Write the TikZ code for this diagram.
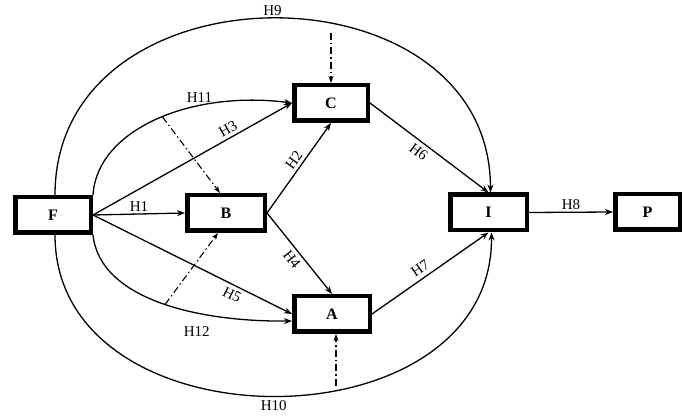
\documentclass[tikz,border=0pt]{standalone}
\usepackage{fontspec}
\setmainfont{Liberation Serif}
\usetikzlibrary{arrows.meta}
\begin{document}
\begin{tikzpicture}[x=1pt,y=-1pt,
  box/.style={draw, line width=4.5pt, fill=white, minimum width=#1, minimum height=35.5pt, inner sep=0pt, font=\fontsize{16}{16}\selectfont\bfseries},
  box/.default=75.5pt,
  link/.style={line width=1.3pt, -{Stealth[length=8pt,width=6pt]}},
  dd/.style={line width=1.1pt, dash pattern=on 7pt off 3pt on 1.5pt off 3pt, -{Stealth[length=7pt,width=5pt]}},
  lab/.style={font=\fontsize{15}{15}\selectfont, inner sep=1pt}]
\fill[white] (0,0) rectangle (683,419);
\useasboundingbox (0,0) rectangle (683,419);

\node[box=75.5pt] (F) at (53,215) {F};
\node[box=77.5pt] (B) at (226,213) {B};
\node[box=73.5pt] (C) at (331,103) {C};
\node[box=75.5pt] (A) at (332,314) {A};
\node[box=76.5pt] (I) at (488.5,212.5) {I};
\node[box=64.5pt] (P) at (647.5,212) {P};

\coordinate (t9) at (331,33);
\coordinate (b10) at (336,386);

% straight connectors
\draw[link] (F.east) -- node[lab,above=1pt]{H1} (B.west);
\draw[link] (F.east) -- node[lab,sloped,above=2pt,pos=0.7]{H3} (C.west);
\draw[link] (F.east) -- node[lab,sloped,below=3pt,pos=0.72]{H5} (A.west);
\draw[link] (B.east) -- node[lab,sloped,above=2pt,pos=0.53]{H2} (C.south);
\draw[link] (B.east) -- node[lab,sloped,below=3pt,pos=0.5]{H4} (A.north);
\draw[link] (C.east) -- node[lab,sloped,below=3pt,pos=0.46]{H6} (I.north);
\draw[link] (A.east) -- node[lab,sloped,above=3pt,pos=0.46]{H7} (I.south);
\draw[link] (I.east) -- node[lab,above=1pt]{H8} (P.west);

% curved connectors
\draw[link] (F.north east) .. controls (97,130) and (190,90) .. (C.west)
  node[lab,pos=0.68,above=2pt]{H11} coordinate[pos=0.53] (h11m);
\draw[link] (F.south east) .. controls (100,300) and (200,322) .. ([yshift=-7pt]A.west)
  node[lab,pos=0.65,below=12pt]{H12} coordinate[pos=0.52] (h12m);
\draw[link] ([xshift=2pt]F.north) .. controls (55,-40) and (490,-40) .. ([xshift=2pt]I.north)
  node[lab,pos=0.5,above=1pt]{H9};
\draw[link] ([xshift=2pt]F.south) .. controls (55,450) and (493,450) .. ([xshift=3pt]I.south)
  node[lab,pos=0.5,below=3pt]{H10};

% dash-dotted moderators
\draw[dd] (t9) -- (C.north);
\draw[dd] (b10) -- ([xshift=4pt]A.south);
\draw[dd] (h11m) -- ([xshift=-6pt]B.north);
\draw[dd] (h12m) -- ([xshift=-8pt]B.south);
\end{tikzpicture}
\end{document}
